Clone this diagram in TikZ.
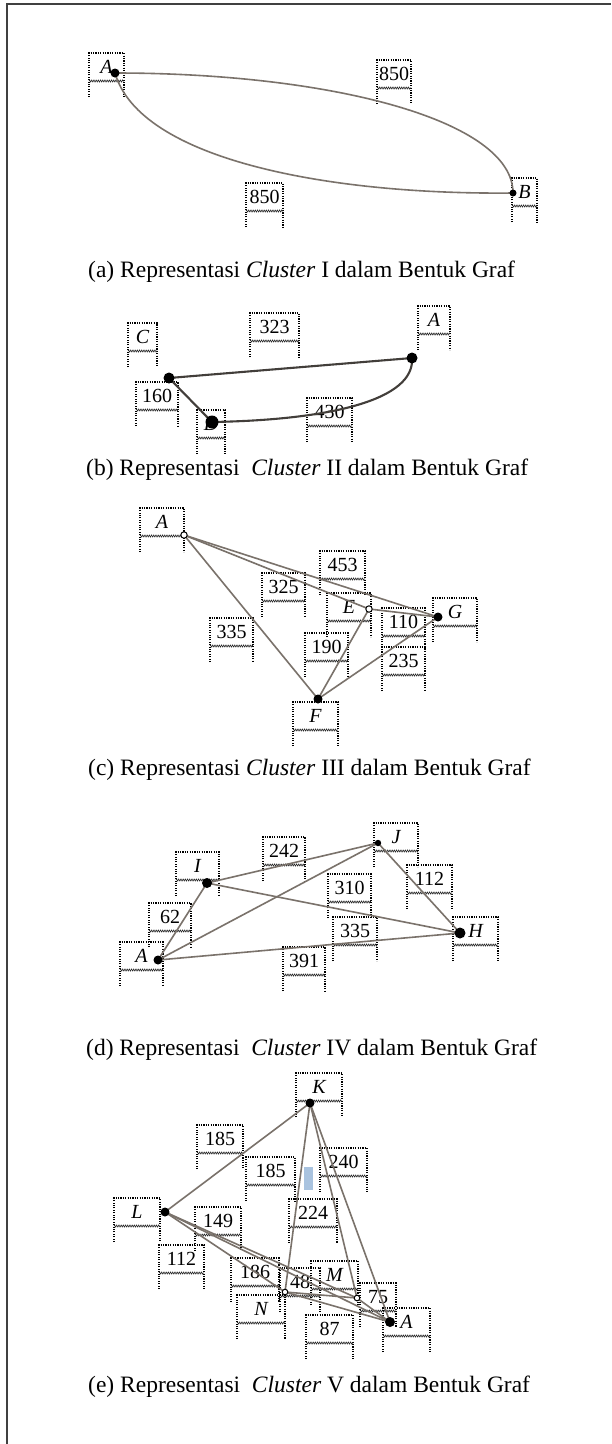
\documentclass[tikz,border=0pt]{standalone}
\usepackage{fontspec}
\setmainfont{Liberation Serif}
\usetikzlibrary{decorations.pathmorphing}
\definecolor{edgegray}{RGB}{122,114,107}
\definecolor{edgedark}{RGB}{66,62,58}
\definecolor{blueish}{RGB}{169,195,223}
\tikzset{
  edge/.style={draw=edgegray, line width=1.6pt},
  edgeb/.style={draw=edgedark, line width=2.1pt},
  dotbox/.style={draw=black, line width=1.1pt, dash pattern=on 1.1pt off 1.3pt},
  snk/.style={draw=black!85, line width=0.6pt, decorate, decoration={zigzag, segment length=2.2pt, amplitude=1pt}},
  lbl/.style={font=\fontsize{20}{20}\selectfont, inner sep=0pt, text=black},
  vlbl/.style={font=\fontsize{20}{20}\selectfont\itshape, inner sep=0pt, text=black},
  capt/.style={font=\fontsize{23.5}{24}\selectfont, anchor=west, inner sep=0pt, text=black},
  frame/.style={draw=black!75, line width=1.2pt}
}
\newcommand{\lbx}[6][lbl]{%
  \node[#1] (#2) at ({#3+#5/2},{#4+14}) {#6};
  \draw[dotbox] (#3,{#4+44}) -- (#3,#4) -- ({#3+#5},#4) -- ({#3+#5},{#4+44});
  \draw[snk] (#3,{#4+28}) -- ({#3+#5},{#4+28});
}
\newcommand{\vdot}[2]{\fill[black] (#1) circle (#2);}
\newcommand{\vring}[2]{\filldraw[fill=white, draw=black, line width=1pt] (#1) circle (#2);}
\begin{document}
\begin{tikzpicture}[x=1pt,y=-1pt]
\useasboundingbox (0,0) rectangle (611,1444);
\fill[white] (0,0) rectangle (611,1444);
\coordinate (fr1) at (7,1444);
\coordinate (fr2) at (7,4);
\coordinate (fr3) at (611,4);
\draw[frame] (fr1) -- (fr2) -- (fr3);

% ---------------- (a)
\coordinate (aA) at (115,73);
\coordinate (aB) at (513,193);
\lbx[vlbl]{aAl}{89}{53}{35}{A}
\lbx{a850a}{377}{60}{34}{850}
\lbx{a850b}{246}{183}{37}{850}
\lbx[vlbl]{aBl}{512}{178}{25}{B}
\draw[edge] (aA) .. controls (330,73) and (513,120) .. (aB);
\draw[edge] (aA) .. controls (140,160) and (330,195) .. (aB);
\vdot{aA}{4.5}
\vdot{aB}{3.5}
\node[capt] (capa) at (88,272) {(a) Representasi \textit{Cluster} I dalam Bentuk Graf};

% ---------------- (b)
\coordinate (bA) at (412,358);
\coordinate (bC) at (169,378);
\coordinate (bD) at (212,422);
\lbx[vlbl]{bCl}{128}{323}{29}{C}
\lbx{b323}{250}{313}{49}{323}
\lbx[vlbl]{bAl}{418}{306}{32}{A}
\lbx{b160}{136}{382}{42}{160}
\lbx[vlbl]{bDl}{197}{410}{28}{D}
\lbx{b430}{307}{398}{45}{430}
\draw[edgeb] (bC) -- (bA);
\draw[edgeb] (bC) -- (bD);
\draw[edgeb] (bD) .. controls (330,420) and (415,400) .. (bA);
\vdot{bA}{5.5}
\vdot{bC}{5.5}
\vdot{bD}{6.5}
\node[capt] (capb) at (86,470) {(b) Representasi \ \textit{Cluster} II dalam Bentuk Graf};

% ---------------- (c)
\coordinate (cA) at (184,535);
\coordinate (cE) at (369,609);
\coordinate (cG) at (438,617);
\coordinate (cF) at (318,699);
\lbx[vlbl]{cAl}{140}{508}{44}{A}
\lbx{c453}{320}{551}{45}{453}
\lbx{c325}{262}{573}{43}{325}
\lbx[vlbl]{cEl}{327}{593}{44}{E}
\lbx{c110}{382}{608}{43}{110}
\lbx[vlbl]{cGl}{433}{598}{44}{G}
\lbx{c335}{210}{618}{43}{335}
\lbx{c190}{305}{633}{43}{190}
\lbx{c235}{382}{647}{43}{235}
\lbx[vlbl]{cFl}{293}{702}{45}{F}
\draw[edge] (cA) -- (cE);
\draw[edge] (cA) -- (cG);
\draw[edge] (cA) -- (cF);
\draw[edge] (cE) -- (cG);
\draw[edge] (cE) -- (cF);
\draw[edge] (cG) -- (cF);
\vring{cA}{3.2}
\vring{cE}{3.2}
\vdot{cG}{4.5}
\vdot{cF}{4.5}
\node[capt] (capc) at (88,770) {(c) Representasi \textit{Cluster} III dalam Bentuk Graf};

% ---------------- (d)
\coordinate (dJ) at (378,843);
\coordinate (dI) at (207,883);
\coordinate (dH) at (460,933);
\coordinate (dA) at (158,960);
\lbx[vlbl]{dJl}{374}{823}{44}{J}
\lbx{d242}{263}{837}{42}{242}
\lbx[vlbl]{dIl}{176}{852}{43}{I}
\lbx{d112}{407}{865}{45}{112}
\lbx{d310}{328}{874}{43}{310}
\lbx{d62}{149}{903}{42}{62}
\lbx{d335}{333}{917}{44}{335}
\lbx[vlbl]{dHl}{453}{917}{45}{H}
\lbx[vlbl]{dAl}{120}{942}{43}{A}
\lbx{d391}{283}{947}{42}{391}
\draw[edge] (dA) -- (dI);
\draw[edge] (dA) -- (dJ);
\draw[edge] (dA) -- (dH);
\draw[edge] (dI) -- (dJ);
\draw[edge] (dI) -- (dH);
\draw[edge] (dJ) -- (dH);
\vdot{dJ}{3.2}
\vdot{dI}{5}
\vdot{dH}{5.5}
\vdot{dA}{4.5}
\node[capt] (capd) at (86,1050) {(d) Representasi \ \textit{Cluster} IV dalam Bentuk Graf};

% ---------------- (e)
\coordinate (eK) at (310,1103);
\coordinate (eL) at (165,1212);
\coordinate (eN) at (285,1292);
\coordinate (eM) at (357,1298);
\coordinate (eA) at (390,1322);
\fill[blueish] (304,1167) rectangle (313,1190);
\lbx[vlbl]{eKl}{296}{1073}{46}{K}
\lbx{e185a}{197}{1125}{46}{185}
\lbx{e185b}{246}{1157}{49}{185}
\lbx{e240}{320}{1148}{47}{240}
\lbx{e224}{289}{1199}{48}{224}
\lbx[vlbl]{eLl}{114}{1198}{46}{L}
\lbx{e149}{195}{1207}{46}{149}
\lbx{e112}{159}{1245}{45}{112}
\lbx{e186}{231}{1258}{48}{186}
\lbx{e48}{280}{1268}{40}{48}
\lbx[vlbl]{eMl}{311}{1261}{47}{M}
\lbx[vlbl]{eNl}{237}{1295}{48}{N}
\lbx{e75}{360}{1283}{36}{75}
\lbx{e87}{306}{1315}{47}{87}
\lbx[vlbl]{eAl}{383}{1308}{47}{A}
\draw[edge] (eK) -- (eL);
\draw[edge] (eK) -- (eN);
\draw[edge] (eK) -- (eM);
\draw[edge] (eK) -- (eA);
\draw[edge] (eL) -- (eN);
\draw[edge] (eL) -- (eM);
\draw[edge] (eL) -- (eA);
\draw[edge] (eN) -- (eM);
\draw[edge] (eN) -- (eA);
\draw[edge] (eM) -- (eA);
\vdot{eK}{4.5}
\vdot{eL}{4.5}
\vring{eN}{2.8}
\vring{eM}{2.8}
\vdot{eA}{5}
\node[capt] (cape) at (88,1387) {(e) Representasi \ \textit{Cluster} V dalam Bentuk Graf};
\end{tikzpicture}
\end{document}
